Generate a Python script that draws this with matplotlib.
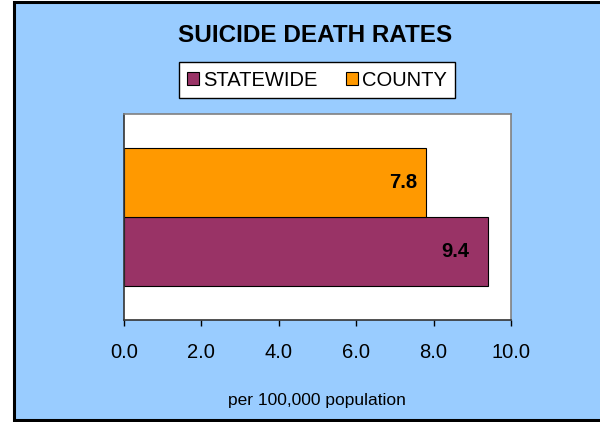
import matplotlib.pyplot as plt
from matplotlib.patches import Rectangle

series = ["STATEWIDE", "COUNTY"]
values = [9.4, 7.8]
colors = ["#993366", "#FF9900"]
xticks = [0.0, 2.0, 4.0, 6.0, 8.0, 10.0]

plt.rcParams["font.family"] = ["Liberation Sans", "DejaVu Sans"]

fig = plt.figure(figsize=(6, 4.22), dpi=100, facecolor="white")
fig.patches.append(Rectangle((14 / 600, 2 / 422), 1.0, 418 / 422,
                             transform=fig.transFigure, facecolor="#99CCFF",
                             edgecolor="black", linewidth=2.2, zorder=-10))

ax = fig.add_axes([124 / 600, 1 - 320 / 422, (511 - 124) / 600, (320 - 114) / 422])
ax.set_facecolor("white")

# one category, bars of the cluster stacked next to each other
h = 1 / 3
ypos = [0.5 - h / 2, 0.5 + h / 2]
bars = ax.barh(ypos, values, height=h, color=colors, edgecolor="black",
               linewidth=0.8, label=series)
for b, v, off in zip(bars, values, [-13.5, -6.5]):
    ax.annotate(f"{v:.1f}", (v, b.get_y() + h / 2), xytext=(off, 0),
                textcoords="offset points", ha="right", va="center",
                fontsize=14.5, fontweight="bold")

ax.set_xlim(0, 10)
ax.set_ylim(0, 1)
ax.set_xticks(xticks)
ax.set_xticklabels([f"{t:.1f}" for t in xticks], fontsize=14.5)
ax.set_yticks([])
ax.tick_params(axis="x", direction="out", length=4.5, width=1, pad=12)
for s in ["top", "right"]:
    ax.spines[s].set_color("#808080")
    ax.spines[s].set_linewidth(1.2)
for s in ["left", "bottom"]:
    ax.spines[s].set_color("#333333")
    ax.spines[s].set_linewidth(1.2)

fig.text(315 / 600, 1 - 35 / 422, "SUICIDE DEATH RATES", ha="center",
         va="center", fontsize=17.5, fontweight="bold")
fig.text(317 / 600, 1 - 400 / 422, "per 100,000 population", ha="center",
         va="center", fontsize=12.5)

leg = fig.legend(handles=list(bars), labels=series, loc="center",
                 bbox_to_anchor=(317 / 600, 1 - 80 / 422), ncol=2,
                 fontsize=14.5, frameon=True, fancybox=False, edgecolor="black",
                 framealpha=1, handlelength=0.6, handleheight=0.6,
                 handletextpad=0.2, columnspacing=1.4, borderpad=0.4,
                 borderaxespad=0)
leg.get_frame().set_linewidth(1)

fig.savefig("out.png", dpi=100, facecolor=fig.get_facecolor())
